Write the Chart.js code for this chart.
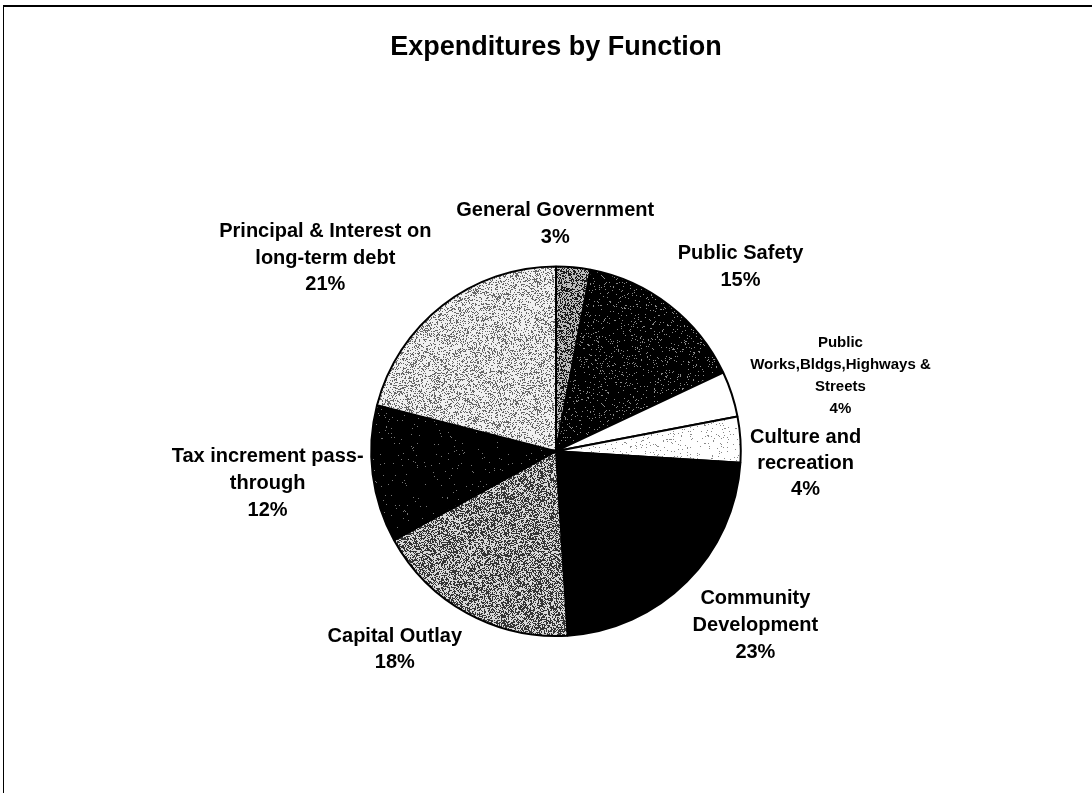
<!DOCTYPE html>
<html>
<head>
<meta charset="utf-8">
<script src="https://cdn.jsdelivr.net/npm/chart.js@4.4.1/dist/chart.umd.min.js"></script>
<style>
  html, body { margin: 0; padding: 0; background: #fff; }
  #wrap { position: relative; width: 1092px; height: 796px; overflow: hidden; }
  #frame { position: absolute; left: 3px; top: 5px; width: 1089px; height: 786px;
           border-top: 2px solid #000; border-left: 1px solid #000; pointer-events: none; }
  canvas { position: absolute; left: 0; top: 0; }
</style>
</head>
<body>
<div id="wrap">
  <canvas id="c" width="1092" height="796"></canvas>
  <div id="frame"></div>
</div>
<script>
// ---- data ----
const categories = [
  ['General Government'],
  ['Public Safety'],
  ['Public', 'Works,Bldgs,Highways &', 'Streets'],
  ['Culture and', 'recreation'],
  ['Community', 'Development'],
  ['Capital Outlay'],
  ['Tax increment pass-', 'through'],
  ['Principal & Interest on', 'long-term debt']
];
const values = [3, 15, 4, 4, 23, 18, 12, 21];
const chartTitle = 'Expenditures by Function';

// ---- styling (fill textures) ----
function hash(x, y, s) {
  let h = Math.imul(x, 374761393) + Math.imul(y, 668265263) + Math.imul(s, 982451653);
  h = Math.imul(h ^ (h >>> 13), 1274126177);
  h = h ^ (h >>> 16);
  return (h >>> 0) / 4294967296;
}
function texture(bg, dot, frac, seed) {
  const n = 128;
  const cv = document.createElement('canvas');
  cv.width = n; cv.height = n;
  const g = cv.getContext('2d');
  g.fillStyle = bg; g.fillRect(0, 0, n, n);
  if (frac > 0) {
    g.fillStyle = dot;
    for (let y = 0; y < n; y++) {
      for (let x = 0; x < n; x++) {
        if (hash(x, y, seed) < frac) g.fillRect(x, y, 1, 1);
      }
    }
  }
  return g.createPattern(cv, 'repeat');
}
const fills = [
  texture('#bdbdbd', '#1a1a1a', 0.45, 1),
  texture('#000000', '#8a8a8a', 0.06, 2),
  '#ffffff',
  texture('#ffffff', '#8a8a8a', 0.06, 4),
  '#000000',
  texture('#d8d8d8', '#333333', 0.50, 6),
  texture('#000000', '#777777', 0.015, 7),
  texture('#f0f0f0', '#666666', 0.28, 8)
];

// label placement: [angle tweak in degrees, distance as multiple of radius]
const labelPlace = [
  [-5.6, 1.228], [7.2, 1.412], [3.2, 1.592], [6.4, 1.352],
  [-3.8, 1.434], [10.3, 1.383], [0.9, 1.570], [-12.3, 1.627]
];
const labelFont = [
  [20, 27], [20, 27], [15, 22], [20, 26],
  [20, 27], [20, 26], [20, 27], [20, 26.5]
];
const FONT = '"Liberation Sans", Arial, Helvetica, sans-serif';

const outsideLabels = {
  id: 'outsideLabels',
  afterDatasetsDraw(chart) {
    const ctx = chart.ctx;
    const meta = chart.getDatasetMeta(0);
    const data = chart.data.datasets[0].data;
    const total = data.reduce((a, b) => a + b, 0);
    ctx.save();
    ctx.fillStyle = '#000';
    ctx.textAlign = 'center';
    ctx.textBaseline = 'middle';
    meta.data.forEach((arc, i) => {
      const p = arc.getProps(['x', 'y', 'startAngle', 'endAngle', 'outerRadius'], true);
      const mid = (p.startAngle + p.endAngle) / 2 + labelPlace[i][0] * Math.PI / 180;
      const d = p.outerRadius * labelPlace[i][1];
      const cx = p.x + Math.cos(mid) * d;
      const cy = p.y + Math.sin(mid) * d;
      const lines = [].concat(chart.data.labels[i], Math.round(data[i] / total * 100) + '%');
      const [size, lh] = labelFont[i];
      ctx.font = 'bold ' + size + 'px ' + FONT;
      const y0 = cy - (lines.length - 1) * lh / 2;
      lines.forEach((t, j) => ctx.fillText(t, cx, y0 + j * lh));
    });
    ctx.restore();
  }
};

new Chart(document.getElementById('c'), {
  type: 'pie',
  data: {
    labels: categories,
    datasets: [{
      data: values,
      backgroundColor: fills,
      borderColor: '#000000',
      borderWidth: 2
    }]
  },
  options: {
    responsive: false,
    devicePixelRatio: 1,
    animation: false,
    events: [],
    layout: { padding: { left: 20, right: 0, top: 0, bottom: 159 } },
    plugins: {
      legend: { display: false },
      tooltip: { enabled: false },
      title: {
        display: true,
        text: chartTitle,
        color: '#000',
        font: { family: FONT, size: 27, weight: 'bold', lineHeight: 1.2 },
        padding: { top: 31, bottom: 202 }
      }
    }
  },
  plugins: [outsideLabels]
});
</script>
</body>
</html>
